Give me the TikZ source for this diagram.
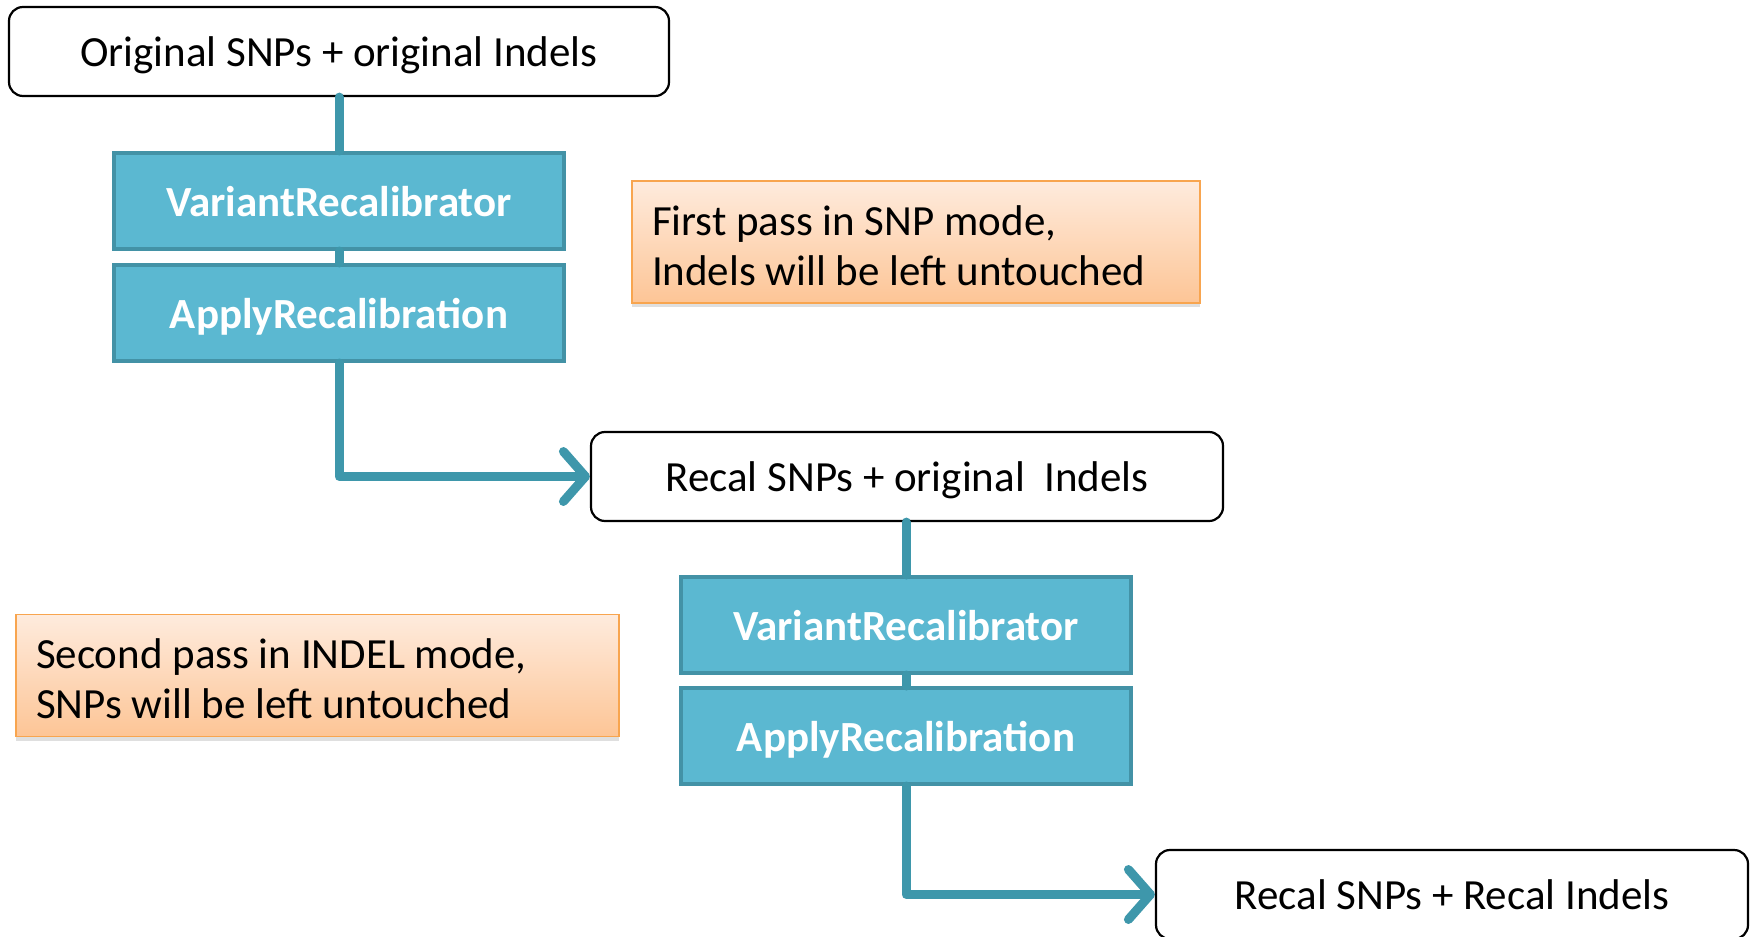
\documentclass[tikz,border=0pt]{standalone}
\usepackage{fontspec}
\setmainfont{Carlito}
\usetikzlibrary{arrows.meta,shadows}
\definecolor{toolfill}{HTML}{5BB8D1}
\definecolor{tooldraw}{HTML}{4392A6}
\definecolor{flowcol}{HTML}{3E97AB}
\definecolor{notetop}{HTML}{FEEBDD}
\definecolor{notebot}{HTML}{FDC596}
\definecolor{notedraw}{HTML}{F8A54F}

\begin{document}
\begin{tikzpicture}[x=0.5pt, y=-0.5pt, every node/.style={font=\fontsize{21.5}{25}\selectfont, inner sep=0pt},
	io/.style={draw, line width=1.1pt, rounded corners=7pt, fill=white, minimum height=44.5pt, text depth=0pt},
	tool/.style={draw=tooldraw, line width=2pt, fill=toolfill, text=white, font=\fontsize{21.5}{25}\selectfont\bfseries, minimum width=225pt, minimum height=48pt, text depth=0pt},
	note/.style={draw=notedraw, line width=0.8pt, top color=notetop, bottom color=notebot, drop shadow={shadow xshift=0pt, shadow yshift=-2pt, opacity=0.25}, align=flush left, inner xsep=10pt, minimum height=61pt, text depth=21.6pt},
	flow/.style={draw=flowcol, line width=4.5pt, line cap=round, line join=round},
	>={Straight Barb[length=11pt, width=25pt, round]}]
	\useasboundingbox (0,0) rectangle (1754,936);
	\clip (0,0) rectangle (1754,936);
	\node[io, minimum width=330pt] (orig) at (339,51.5) {Original SNPs + original Indels};
	\node[tool] (vr1) at (339,201) {VariantRecalibrator};
	\node[tool] (ar1) at (339,313) {ApplyRecalibration};
	\node[io, minimum width=316pt] (recal) at (907,476.5) {Recal SNPs + original\ \ Indels};
	\node[tool] (vr2) at (906,625) {VariantRecalibrator};
	\node[tool] (ar2) at (906,736) {ApplyRecalibration};
	\node[io, minimum width=296pt] (final) at (1452,894.5) {Recal SNPs + Recal Indels};
	\node[note, text width=264pt] (pass1) at (916,242) {First pass in SNP mode,\\Indels will be left untouched};
	\node[note, text width=281.5pt] (pass2) at (317.5,675.5) {Second pass in INDEL mode,\\SNPs will be left untouched};
	\draw[flow] (orig.south) -- (vr1.north);
	\draw[flow] (vr1.south) -- (ar1.north);
	\draw[flow, ->] (ar1.south) |- (recal.west);
	\draw[flow] (recal.south -| vr2.north) -- (vr2.north);
	\draw[flow] (vr2.south) -- (ar2.north);
	\draw[flow, ->] (ar2.south) |- (final.west);
\end{tikzpicture}
\end{document}
